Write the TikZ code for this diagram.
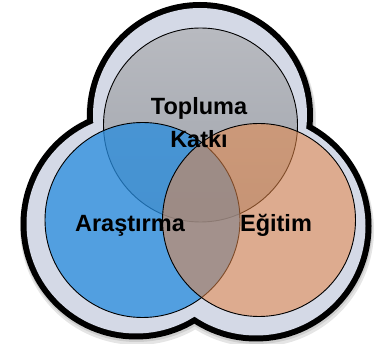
\documentclass[tikz,border=0pt]{standalone}
\usepackage{fontspec}
\setmainfont{Liberation Sans}
\definecolor{bandcol}{RGB}{212,217,230}
\definecolor{graytop}{RGB}{184,186,192}
\definecolor{graybot}{RGB}{160,164,172}
\definecolor{bluecol}{RGB}{39,140,222}
\definecolor{orangecol}{RGB}{230,135,72}
\begin{document}
\begin{tikzpicture}[x=1pt,y=-1pt,
  venn/.style={draw=black, line width=0.9pt},
  lbl/.style={font=\bfseries\fontsize{23.5}{32}\selectfont, text=black, inner sep=0pt}]
\useasboundingbox (0,0) rectangle (375,344);
% outer centres
\coordinate (ot) at (200,115);
\coordinate (ol) at (136,224);
\coordinate (or) at (256,226);
% shadow
\fill[black, opacity=0.10] ([shift={(1,4)}]ot) circle[radius=115pt] ([shift={(1,4)}]ol) circle[radius=117pt] ([shift={(1,4)}]or) circle[radius=117pt];
\fill[black, opacity=0.10] ([shift={(0.5,2)}]ot) circle[radius=114pt] ([shift={(0.5,2)}]ol) circle[radius=116pt] ([shift={(0.5,2)}]or) circle[radius=116pt];
% black rim
\fill[black] (ot) circle[radius=113pt] (ol) circle[radius=115.5pt] (or) circle[radius=115.5pt];
% light band
\fill[bandcol] (ot) circle[radius=107pt] (ol) circle[radius=109.5pt] (or) circle[radius=109.5pt];
% venn circles
\coordinate (ct) at (200.5,125);
\coordinate (cl) at (142.5,220);
\coordinate (cr) at (259,220);
\shade[top color=graytop, bottom color=graybot] (ct) circle[radius=97pt];
\draw[venn] (ct) circle[radius=97pt];
\fill[bluecol, fill opacity=0.75] (cl) circle[radius=97.5pt];
\draw[venn] (cl) circle[radius=97.5pt];
\fill[orangecol, fill opacity=0.55] (cr) circle[radius=96.5pt];
\draw[venn] (cr) circle[radius=96.5pt];
% labels
\node[lbl, anchor=base] (t1) at (199,115) {Topluma};
\node[lbl, anchor=base] (t2) at (199,148) {Katkı};
\node[lbl, anchor=base] (ar) at (130,232) {Araştırma};
\node[lbl, anchor=base] (eg) at (276,232) {Eğitim};
\end{tikzpicture}
\end{document}
